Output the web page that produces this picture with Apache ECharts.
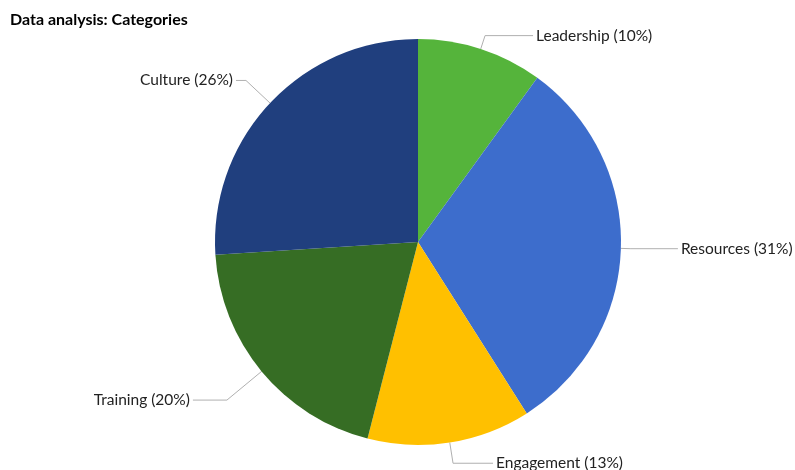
<!DOCTYPE html>
<html>
<head>
<meta charset="utf-8">
<script src="https://cdn.jsdelivr.net/npm/echarts@6/dist/echarts.min.js"></script>
<style>
  html, body { margin: 0; padding: 0; background: #fff; }
  #chart { width: 795px; height: 470px; }
</style>
</head>
<body>
<div id="chart"></div>
<script>
// Share of responses per category (percent)
const categories = ['Leadership', 'Resources', 'Engagement', 'Training', 'Culture'];
const shares = [10, 31, 13, 20, 26];
const colors = ['#55B43B', '#3D6DCC', '#FFC000', '#366D24', '#203F7E'];
// leader-line segment lengths for each slice label [radial, horizontal]
const leaderLengths = [[14, 48], [10, 47], [21, 40], [45, 34], [33, 10]];

const chart = echarts.init(document.getElementById('chart'), null, { renderer: 'canvas' });

const data = categories.map((name, i) => ({
  name: name,
  value: shares[i],
  itemStyle: { color: colors[i] },
  labelLine: { length: leaderLengths[i][0], length2: leaderLengths[i][1] }
}));

chart.setOption({
  animation: false,
  backgroundColor: '#ffffff',
  title: {
    text: 'Data analysis: Categories',
    left: 5,
    top: 7,
    textStyle: {
      fontFamily: 'Lato',
      fontWeight: 'bold',
      fontSize: 16,
      color: '#000000'
    }
  },
  series: [{
    type: 'pie',
    center: [418, 242],
    radius: 203,
    startAngle: 90,
    clockwise: true,
    avoidLabelOverlap: false,
    data: data,
    itemStyle: { borderWidth: 0 },
    label: {
      show: true,
      position: 'outside',
      formatter: '{b} ({c}%)',
      fontFamily: 'Lato',
      fontSize: 15.5,
      color: '#222222',
      distanceToLabelLine: 3
    },
    labelLine: {
      show: true,
      smooth: false,
      lineStyle: { color: '#b0b0b0', width: 1 }
    }
  }]
});
</script>
</body>
</html>
